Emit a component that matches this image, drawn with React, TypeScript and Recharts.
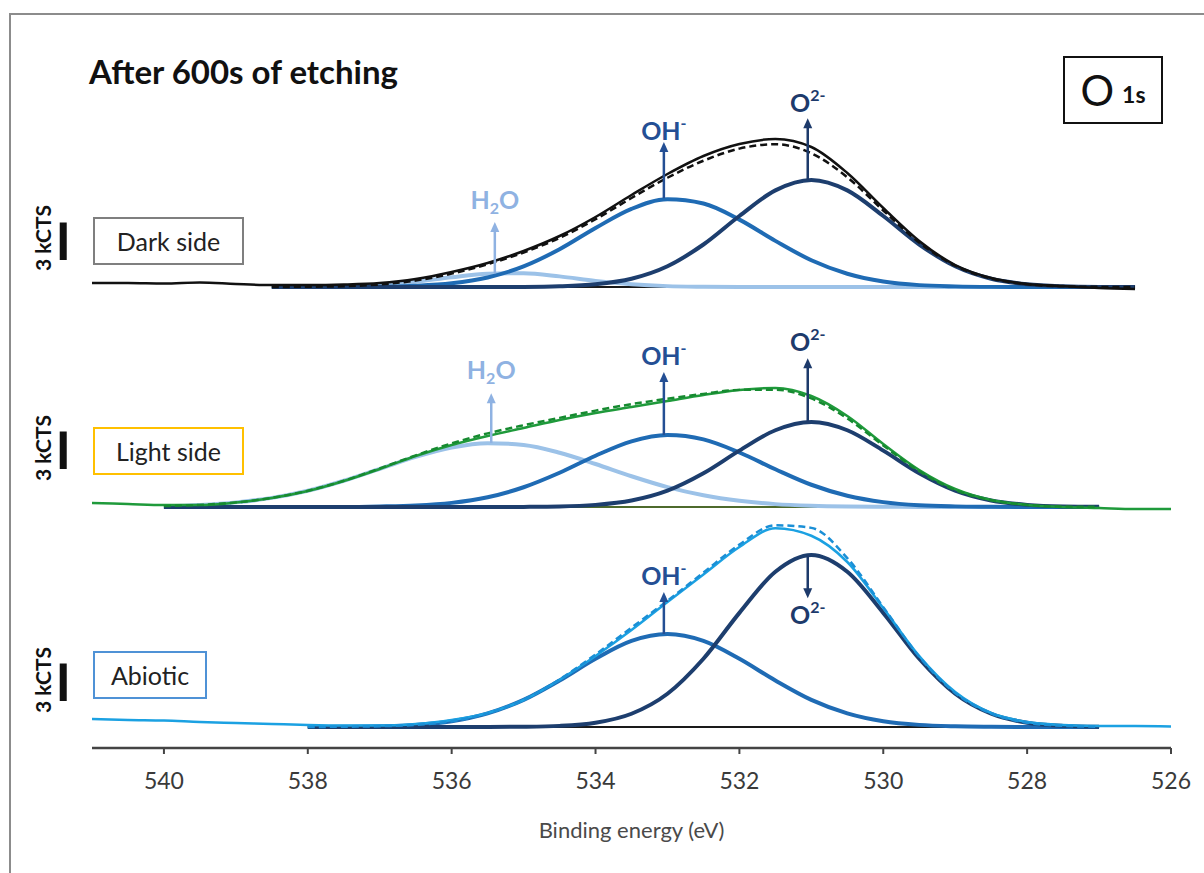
import React from 'react';
import { ComposedChart, Line, XAxis, YAxis, ReferenceLine, ReferenceDot } from 'recharts';

// binding energy grid (eV), high -> low
const energies = [
  541, 540.5, 540, 539.5, 539, 538.5, 538, 537.5, 537, 536.5, 536, 535.5, 535, 534.5, 534, 533.5,
  533, 532.5, 532, 531.5, 531, 530.5, 530, 529.5, 529, 528.5, 528, 527.5, 527, 526.5, 526,
];
const xTicks = [540, 538, 536, 534, 532, 530, 528, 526];

// intensities in kCTS, above each panel's own background
const darkExp = [0.32, 0.32, 0.28, 0.36, 0.24, 0.16, 0.16, 0.2, 0.32, 0.64, 1.2, 1.92, 2.88, 4.08, 5.6, 7.36, 9.04, 10.48, 11.44, 11.84, 11.2, 9.12, 6.32, 3.68, 1.76, 0.72, 0.24, 0.08, -0.08, -0.16, null];
const darkFit = [null, null, null, null, null, 0, 0.02, 0.06, 0.2, 0.52, 1.07, 1.82, 2.76, 3.93, 5.42, 7.12, 8.74, 10.1, 11.07, 11.42, 10.7, 8.78, 6.12, 3.55, 1.7, 0.67, 0.22, 0.06, 0.01, 0, null];
const darkO2 = [null, null, null, null, null, 0, 0, 0, 0, 0, 0, 0, 0.01, 0.06, 0.22, 0.66, 1.66, 3.4, 5.68, 7.73, 8.56, 7.73, 5.68, 3.4, 1.66, 0.66, 0.22, 0.06, 0.01, 0, null];
const darkOH = [null, null, null, null, null, 0, 0, 0.01, 0.02, 0.1, 0.3, 0.76, 1.65, 3.02, 4.72, 6.25, 7.02, 6.68, 5.39, 3.69, 2.14, 1.06, 0.44, 0.15, 0.05, 0.01, 0, 0, 0, 0, null];
const darkH2O = [null, null, null, null, null, 0, 0.02, 0.06, 0.18, 0.42, 0.78, 1.06, 1.1, 0.85, 0.49, 0.22, 0.07, 0.02, 0, 0, 0, 0, 0, 0, 0, 0, 0, 0, 0, 0, null];
const darkBase = [null, null, null, null, null, 0, 0, 0, 0, 0, 0, 0, 0, 0, 0, 0, 0, 0, 0, 0, 0, 0, 0, 0, 0, 0, 0, 0, 0, 0, null];

const lightExp = [0.32, 0.24, 0.16, 0.16, 0.36, 0.72, 1.28, 2.08, 3.04, 4.08, 4.96, 5.68, 6.32, 6.96, 7.52, 8.0, 8.48, 8.96, 9.36, 9.52, 8.88, 7.28, 5.04, 2.96, 1.44, 0.56, 0.16, 0, -0.08, -0.16, -0.16];
const lightFit = [null, null, 0.07, 0.17, 0.37, 0.73, 1.3, 2.1, 3.09, 4.13, 5.09, 5.89, 6.54, 7.13, 7.71, 8.23, 8.66, 9.05, 9.37, 9.38, 8.69, 7.08, 4.92, 2.86, 1.36, 0.54, 0.17, 0.04, 0.01, null, null];
const lightO2 = [null, null, 0, 0, 0, 0, 0, 0, 0, 0, 0, 0, 0.01, 0.04, 0.17, 0.52, 1.31, 2.7, 4.51, 6.14, 6.8, 6.14, 4.51, 2.7, 1.31, 0.52, 0.17, 0.04, 0.01, null, null];
const lightOH = [null, null, 0, 0, 0, 0, 0, 0, 0.04, 0.12, 0.33, 0.78, 1.58, 2.74, 4.1, 5.25, 5.76, 5.41, 4.36, 3.02, 1.78, 0.9, 0.39, 0.14, 0.05, 0.02, 0, 0, 0, null, null];
const lightH2O = [null, null, 0.07, 0.17, 0.37, 0.73, 1.3, 2.1, 3.05, 4.01, 4.76, 5.11, 4.96, 4.34, 3.44, 2.46, 1.59, 0.94, 0.5, 0.23, 0.1, 0.04, 0.02, 0.01, 0, 0, 0, 0, 0, null, null];
const lightBase = [null, null, 0, 0, 0, 0, 0, 0, 0, 0, 0, 0, 0, 0, 0, 0, 0, 0, 0, 0, 0, 0, 0, 0, 0, 0, 0, 0, 0, null, null];

const abioExp = [0.64, 0.56, 0.52, 0.4, 0.32, 0.24, 0.16, 0.12, 0.12, 0.24, 0.56, 1.12, 2.16, 3.76, 5.68, 7.76, 10.0, 12.2, 14.4, 15.9, 15.3, 13.2, 9.52, 5.68, 2.8, 1.12, 0.4, 0.16, 0.08, 0.08, 0.04];
const abioFit = [null, null, null, null, null, null, 0, 0.02, 0.06, 0.17, 0.46, 1.09, 2.19, 3.81, 5.8, 7.95, 10.1, 12.35, 14.59, 16.14, 15.93, 13.51, 9.59, 5.63, 2.72, 1.08, 0.34, 0.09, 0.02, null, null];
const abioO2 = [null, null, null, null, null, null, 0, 0, 0, 0, 0, 0, 0.02, 0.09, 0.34, 1.06, 2.66, 5.46, 9.13, 12.42, 13.76, 12.42, 9.13, 5.46, 2.66, 1.06, 0.34, 0.09, 0.02, null, null];
const abioOH = [null, null, null, null, null, null, 0, 0.02, 0.06, 0.17, 0.46, 1.09, 2.17, 3.72, 5.46, 6.89, 7.44, 6.89, 5.46, 3.72, 2.17, 1.09, 0.46, 0.17, 0.06, 0.02, 0, 0, 0, null, null];
const abioBase = [null, null, null, null, null, null, 0, 0, 0, 0, 0, 0, 0, 0, 0, 0, 0, 0, 0, 0, 0, 0, 0, 0, 0, 0, 0, 0, 0, null, null];

// vertical stacking of the three spectra (kCTS)
const OFFSET_DARK = 36.88;
const OFFSET_LIGHT = 19.28;
const OFFSET_ABIO = 1.68;
const SCALE_BAR = 3; // kCTS
const SCALE_BAR_X = 541.4;

// peak markers: energy, arrow start/end and label height (kCTS above background)
const markers = [
  { offset: OFFSET_DARK, kind: 'H2O', e: 535.4, from: 1.1, to: 5.2, label: 6.96 },
  { offset: OFFSET_DARK, kind: 'OH', e: 533.05, from: 7.1, to: 11.6, label: 12.5 },
  { offset: OFFSET_DARK, kind: 'O2', e: 531.05, from: 8.56, to: 13.5, label: 14.7 },
  { offset: OFFSET_LIGHT, kind: 'H2O', e: 535.45, from: 5.11, to: 9.1, label: 11.0 },
  { offset: OFFSET_LIGHT, kind: 'OH', e: 533.05, from: 5.76, to: 10.8, label: 12.1 },
  { offset: OFFSET_LIGHT, kind: 'O2', e: 531.05, from: 6.8, to: 11.9, label: 13.2 },
  { offset: OFFSET_ABIO, kind: 'OH', e: 533.05, from: 7.44, to: 10.8, label: 12.1 },
  { offset: OFFSET_ABIO, kind: 'O2', e: 531.05, from: 13.76, to: 10.3, label: 9.0 },
];
const scaleBarBottoms = [OFFSET_DARK + 2.16, OFFSET_LIGHT + 3.04, OFFSET_ABIO + 2.08];

const FONT = 'Lato, "Open Sans", sans-serif';
const C_O2 = '#1d3e6e';
const C_OH = '#1f6bb4';
const C_H2O = '#9cc2e8';
const LABEL_COLOR: Record<string, string> = { H2O: '#8fb2e2', OH: '#244f94', O2: '#1d3a6b' };

const shift = (v: number | null, o: number) => (v == null ? null : v + o);

const chartData = energies.map((e, i) => ({
  e,
  darkExp: shift(darkExp[i], OFFSET_DARK),
  darkFit: shift(darkFit[i], OFFSET_DARK),
  darkO2: shift(darkO2[i], OFFSET_DARK),
  darkOH: shift(darkOH[i], OFFSET_DARK),
  darkH2O: shift(darkH2O[i], OFFSET_DARK),
  darkBase: shift(darkBase[i], OFFSET_DARK),
  lightExp: shift(lightExp[i], OFFSET_LIGHT),
  lightFit: shift(lightFit[i], OFFSET_LIGHT),
  lightO2: shift(lightO2[i], OFFSET_LIGHT),
  lightOH: shift(lightOH[i], OFFSET_LIGHT),
  lightH2O: shift(lightH2O[i], OFFSET_LIGHT),
  lightBase: shift(lightBase[i], OFFSET_LIGHT),
  abioExp: shift(abioExp[i], OFFSET_ABIO),
  abioFit: shift(abioFit[i], OFFSET_ABIO),
  abioO2: shift(abioO2[i], OFFSET_ABIO),
  abioOH: shift(abioOH[i], OFFSET_ABIO),
  abioBase: shift(abioBase[i], OFFSET_ABIO),
}));

// drawing order: background, components, measured, envelope
const series = [
  { key: 'darkBase', color: '#1a1a1a', width: 2 },
  { key: 'darkH2O', color: C_H2O, width: 4 },
  { key: 'darkOH', color: C_OH, width: 4 },
  { key: 'darkO2', color: C_O2, width: 4 },
  { key: 'darkExp', color: '#111111', width: 2.5 },
  { key: 'darkFit', color: '#111111', width: 2.5, dash: '7 4' },
  { key: 'lightBase', color: '#4e6a2c', width: 2 },
  { key: 'lightH2O', color: C_H2O, width: 4 },
  { key: 'lightOH', color: C_OH, width: 4 },
  { key: 'lightO2', color: C_O2, width: 4 },
  { key: 'lightExp', color: '#1f9a3b', width: 2.5 },
  { key: 'lightFit', color: '#168a30', width: 2.5, dash: '7 4' },
  { key: 'abioBase', color: '#1a1a1a', width: 2 },
  { key: 'abioOH', color: C_OH, width: 4 },
  { key: 'abioO2', color: C_O2, width: 4 },
  { key: 'abioExp', color: '#1ba1e2', width: 2.5 },
  { key: 'abioFit', color: '#1a8fd6', width: 2.5, dash: '7 4' },
];

const arrowShape = (color: string) => (props: any) => {
  const { x1, y1, x2, y2 } = props;
  const dir = y2 < y1 ? -1 : 1;
  const head = 10;
  return (
    <g>
      <line x1={x1} y1={y1} x2={x2} y2={y2 - dir * head * 0.7} stroke={color} strokeWidth={2.5} />
      <polygon points={`${x2},${y2} ${x2 - 4.5},${y2 - dir * head} ${x2 + 4.5},${y2 - dir * head}`} fill={color} />
    </g>
  );
};

const labelShape = (kind: string) => (props: any) => {
  const { cx, cy } = props;
  const color = LABEL_COLOR[kind];
  const common = { x: cx, y: cy + 9, textAnchor: 'middle' as const, fill: color, fontFamily: FONT, fontWeight: 700, fontSize: 25 };
  if (kind === 'H2O') {
    return (
      <text {...common}>
        H<tspan fontSize={16} dy={5}>2</tspan><tspan dy={-5}>O</tspan>
      </text>
    );
  }
  if (kind === 'OH') {
    return (
      <text {...common}>
        OH<tspan fontSize={16} dy={-11}>-</tspan>
      </text>
    );
  }
  return (
    <text {...common}>
      O<tspan fontSize={16} dy={-11}>2-</tspan>
    </text>
  );
};

const boxStyle = (border: string, left: number, top: number, width: number): React.CSSProperties => ({
  position: 'absolute',
  left,
  top,
  width,
  height: 44,
  border: `2.5px solid ${border}`,
  background: '#fff',
  fontFamily: FONT,
  fontSize: 25,
  color: '#222',
  display: 'flex',
  alignItems: 'center',
  justifyContent: 'center',
});

const kctsStyle = (top: number): React.CSSProperties => ({
  position: 'absolute',
  left: 42,
  top,
  transform: 'translate(-50%, -50%) rotate(-90deg)',
  fontFamily: FONT,
  fontWeight: 700,
  fontSize: 21,
  color: '#111',
  whiteSpace: 'nowrap',
});

export default function App() {
  return (
    <div style={{ position: 'relative', width: 1204, height: 873, overflow: 'hidden', background: '#fff' }}>
      <style>{'body{margin:0}'}</style>
      <div style={{ position: 'absolute', left: 9, top: 13, width: 1400, height: 1200, border: '2.5px solid #8c8c8c' }} />

      <div style={{ position: 'absolute', left: 0, top: 0 }}>
        <ComposedChart width={1204} height={873} data={chartData} margin={{ top: 48, right: 33, bottom: 25, left: 92 }}>
          <XAxis
            dataKey="e"
            type="number"
            domain={[526, 541]}
            reversed
            ticks={xTicks}
            allowDataOverflow
            height={100}
            tickSize={6}
            tickMargin={19}
            axisLine={{ stroke: '#444', strokeWidth: 2.5 }}
            tickLine={{ stroke: '#444', strokeWidth: 2 }}
            tick={{ fontSize: 23, fill: '#3a3a3a', fontFamily: FONT }}
            label={{ value: 'Binding energy (eV)', position: 'insideBottom', offset: 10, fontSize: 22, fill: '#4a4a4a', fontFamily: FONT }}
          />
          <YAxis hide width={0} type="number" domain={[0, 56]} allowDataOverflow />

          {series.map((s) => (
            <Line
              key={s.key}
              dataKey={s.key}
              type="monotone"
              stroke={s.color}
              strokeWidth={s.width}
              strokeDasharray={s.dash}
              dot={false}
              activeDot={false}
              isAnimationActive={false}
            />
          ))}

          {scaleBarBottoms.map((b, i) => (
            <ReferenceLine
              key={`bar${i}`}
              segment={[{ x: SCALE_BAR_X, y: b }, { x: SCALE_BAR_X, y: b + SCALE_BAR }]}
              stroke="#111"
              strokeWidth={7}
              ifOverflow="visible"
            />
          ))}

          {markers.map((m, i) => (
            <ReferenceLine
              key={`arrow${i}`}
              segment={[{ x: m.e, y: m.offset + m.from }, { x: m.e, y: m.offset + m.to }]}
              shape={arrowShape(LABEL_COLOR[m.kind])}
            />
          ))}
          {markers.map((m, i) => (
            <ReferenceDot key={`lab${i}`} x={m.e} y={m.offset + m.label} r={0} shape={labelShape(m.kind)} />
          ))}
        </ComposedChart>
      </div>

      <div style={{ position: 'absolute', left: 89, top: 51, fontFamily: FONT, fontWeight: 700, fontSize: 33, color: '#111' }}>
        After 600s of etching
      </div>

      <div
        style={{
          position: 'absolute', left: 1063, top: 56, width: 96, height: 64, border: '2.5px solid #111',
          display: 'flex', alignItems: 'center', justifyContent: 'center', fontFamily: FONT, color: '#111',
        }}
      >
        <span style={{ fontSize: 42 }}>O</span>
        <span style={{ fontSize: 23, fontWeight: 700, marginLeft: 8, marginTop: 8 }}>1s</span>
      </div>

      <div style={boxStyle('#7f7f7f', 93, 217, 147)}>Dark side</div>
      <div style={boxStyle('#ffc000', 93, 427, 147)}>Light side</div>
      <div style={boxStyle('#4f92d6', 93, 651, 110)}>Abiotic</div>

      <div style={kctsStyle(238)}>3 kCTS</div>
      <div style={kctsStyle(448)}>3 kCTS</div>
      <div style={kctsStyle(680)}>3 kCTS</div>
    </div>
  );
}
